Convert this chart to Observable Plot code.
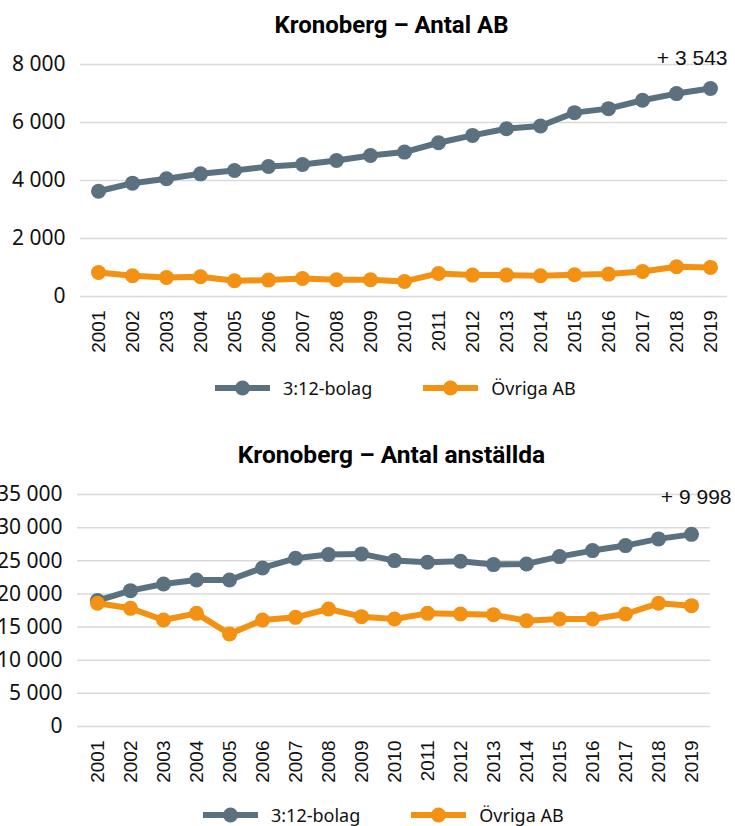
<!DOCTYPE html>
<html><head><meta charset="utf-8">
<script src="https://cdn.jsdelivr.net/npm/d3@7"></script>
<script src="https://cdn.jsdelivr.net/npm/@observablehq/plot@0.6"></script>
<style>
body{margin:0;background:#fff;}
#wrap{position:relative;width:735px;height:826px;overflow:hidden;background:#fff;}
.title{position:absolute;left:0;width:783px;text-align:center;font-family:Roboto,sans-serif;font-weight:700;font-size:24px;line-height:24px;color:#000;white-space:nowrap;}
.chart{position:absolute;left:0;}
.legend{position:absolute;height:24px;display:flex;align-items:center;font-family:"Noto Sans",sans-serif;font-size:18px;color:#111;white-space:nowrap;}
.legend svg{margin-right:13px;}
.legend span{margin-right:51px;}
</style></head>
<body><div id="wrap"></div>
<script>
const years = ["2001","2002","2003","2004","2005","2006","2007","2008","2009","2010","2011","2012","2013","2014","2015","2016","2017","2018","2019"];
const seriesNames = ["3:12-bolag","Övriga AB"];
const colors = ["#5b717f","#f39113"];
const titles = ["Kronoberg – Antal AB","Kronoberg – Antal anställda"];
const notes = ["+ 3 543","+ 9 998"];
// Chart 1: Antal AB
const ab312 = [3630,3908,4058,4230,4346,4484,4553,4691,4864,4980,5302,5556,5786,5879,6340,6478,6766,6997,7173];
const abOvriga = [830,715,657,680,542,565,622,576,576,519,795,738,738,715,749,772,865,1026,1003];
const ticksAB = [0,2000,4000,6000,8000];
// Chart 2: Antal anställda
const emp312 = [18990,20497,21504,22108,22108,23921,25381,25935,26036,25029,24777,24928,24425,24525,25633,26540,27295,28302,28988];
const empOvriga = [18583,17827,16065,17072,13950,16065,16468,17727,16568,16216,17072,16971,16871,15964,16216,16216,16971,18583,18231];
const ticksEmp = [0,5000,10000,15000,20000,25000,30000,35000];

const fmt = d => d3.format(",")(d).replace(/,/g, "\u00a0");
const wrap = document.getElementById("wrap");

function makeChart(o) {
  const data = [
    ...years.map((y,i)=>({year:y, value:o.v1[i], s:seriesNames[0]})),
    ...years.map((y,i)=>({year:y, value:o.v2[i], s:seriesNames[1]}))
  ];
  const last = years.length - 1;
  const plot = Plot.plot({
    width: 735, height: o.height,
    marginTop: o.mt, marginBottom: o.mb, marginLeft: o.ml, marginRight: o.mr,
    style: {background: "transparent", color: "#000", overflow: "visible"},
    x: {type: "point", domain: years, padding: 0.5, label: null},
    y: {domain: [0, o.ticks[o.ticks.length-1]], label: null},
    color: {domain: seriesNames, range: colors},
    marks: [
      Plot.gridY(o.ticks, {stroke: "#d9d9d9", strokeOpacity: 1, strokeWidth: 1.5}),
      Plot.axisY(o.ticks, {tickSize: 0, tickPadding: 15, tickFormat: fmt, fontSize: 21, fontFamily: "Noto Sans", fill: "#111", label: null}),
      Plot.axisX({tickSize: 0, tickRotate: -90, tickPadding: 14, fontSize: 19, fontFamily: "Liberation Sans", fill: "#111", label: null}),
      Plot.line(data, {x: "year", y: "value", z: "s", stroke: "s", strokeWidth: 6}),
      Plot.dot(data, {x: "year", y: "value", fill: "s", r: 7.5}),
      Plot.text([{year: years[last], value: o.v1[last], label: o.note}], {x: "year", y: "value", text: "label", textAnchor: "end", dx: o.noteDx, dy: o.noteDy, fontSize: 21, fontFamily: "Liberation Sans", fill: "#111"})
    ]
  });
  plot.classList.add("chart");
  plot.style.top = o.top + "px";
  wrap.appendChild(plot);

  const t = document.createElement("div");
  t.className = "title";
  t.style.top = o.titleTop + "px";
  t.style.fontSize = o.titleSize + "px";
  t.textContent = o.title;
  wrap.appendChild(t);

  const lg = document.createElement("div");
  lg.className = "legend";
  lg.style.left = o.legendLeft + "px";
  lg.style.top = o.legendTop + "px";
  seriesNames.forEach((name, i) => {
    const sw = document.createElementNS("http://www.w3.org/2000/svg", "svg");
    sw.setAttribute("width", 55); sw.setAttribute("height", 20);
    sw.innerHTML = `<line x1="0" x2="55" y1="10" y2="10" stroke="${colors[i]}" stroke-width="6"/><circle cx="27.5" cy="10" r="7.5" fill="${colors[i]}"/>`;
    const sp = document.createElement("span");
    sp.textContent = name;
    lg.appendChild(sw); lg.appendChild(sp);
  });
  wrap.appendChild(lg);
}

makeChart({v1: ab312, v2: abOvriga, ticks: ticksAB, height: 420, top: 0, mt: 64, mb: 124, ml: 80, mr: 8,
  note: notes[0], noteDx: 17, noteDy: -30, title: titles[0], titleTop: 13, titleSize: 24, legendLeft: 215, legendTop: 376});
makeChart({v1: emp312, v2: empOvriga, ticks: ticksEmp, height: 406, top: 420, mt: 74, mb: 100, ml: 77, mr: 25,
  note: notes[1], noteDx: 40, noteDy: -37, title: titles[1], titleTop: 443, titleSize: 24.5, legendLeft: 203, legendTop: 803});
</script>
</body></html>
